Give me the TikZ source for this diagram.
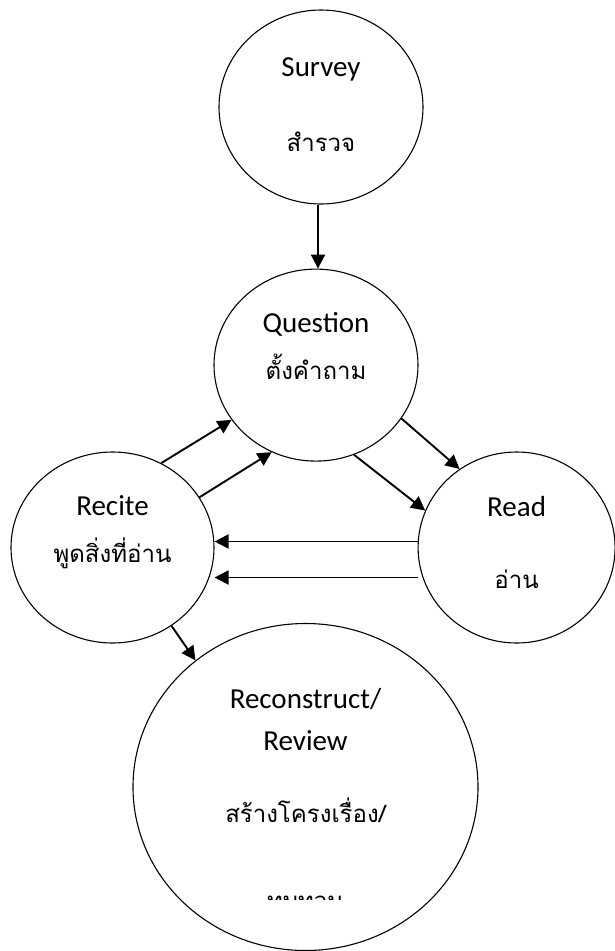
\documentclass[tikz,border=0pt]{standalone}
\usepackage{fontspec}
\setmainfont{Carlito}
\newfontfamily\thaifont[Script=Thai]{Loma}
\usetikzlibrary{arrows.meta,positioning,shapes.geometric}

\begin{document}
\begin{tikzpicture}[x=1pt,y=-1pt,
    stage/.style={ellipse,draw,line width=1.1pt,inner sep=0pt},
    eng/.style={anchor=base,inner sep=0pt,font=\fontsize{29}{34}\selectfont},
    thai/.style={anchor=base,inner sep=0pt,font=\thaifont\fontsize{24}{29}\selectfont},
    flow/.style={-{Triangle[length=14pt,width=14pt]},line width=1.9pt}]
  \useasboundingbox (0,0) rectangle (614,951);
  \node[stage,minimum width=204pt,minimum height=194pt] (survey) at (321,107) {};
  \node[stage,minimum width=204pt,minimum height=192pt] (question) [below=64pt of survey,xshift=-5pt] {};
  \node[stage,minimum width=203pt,minimum height=191pt] (recite) at (112.5,547.5) {};
  \node[stage,minimum width=197pt,minimum height=191pt] (read) [right=203pt of recite] {};
  \node[stage,minimum width=345pt,minimum height=327pt] (review) at (305.5,787) {};

  \node[eng]  (survey name)   at ([yshift=31pt]survey.center)    {Survey};
  \node[thai] (survey thai)   at ([yshift=-44pt]survey.center)   {สำรวจ};
  \node[eng]  (question name) at ([yshift=33pt]question.center)  {Question};
  \node[thai] (question thai) at ([yshift=-14pt]question.center) {ตั้งคำถาม};
  \node[eng]  (recite name)   at ([yshift=32.5pt]recite.center)  {Recite};
  \node[thai] (recite thai)   at ([yshift=-14.5pt]recite.center) {พูดสิ่งที่อ่าน};
  \node[eng]  (read name)     at ([yshift=31.5pt]read.center)    {Read};
  \node[thai] (read thai)     at ([yshift=-40.5pt]read.center)   {อ่าน};
  \node[eng]  (review name)   at ([yshift=79pt]review.center)    {Reconstruct/};
  \node[eng]  (review name2)  at ([yshift=37pt]review.center)    {Review};
  \node[thai] (review thai)   at ([yshift=-35pt]review.center)   {สร้างโครงเรื่อง/};
  \begin{scope}
    \clip (200,880) rectangle (420,899.5);
    \node[thai] (review thai2) at ([yshift=-122pt]review.center) {ทบทวน};
  \end{scope}

  \draw[flow] ([xshift=-3pt]survey.south) -- ([xshift=2pt]question.north);
  \draw[flow] (recite.60) -- (question.213);
  \draw[flow] (recite.30) -- (question.243);
  \draw[flow] (question.328) -- (read.126);
  \draw[flow] (question.293) -- (read.158);
  \draw[flow] ([yshift=6pt]read.west) -- ([yshift=6pt]recite.east);
  \draw[flow] ([yshift=-30pt]read.west) -- ([yshift=-30pt]recite.east);
  \draw[flow] (recite.307) -- (review.131);
\end{tikzpicture}
\end{document}
